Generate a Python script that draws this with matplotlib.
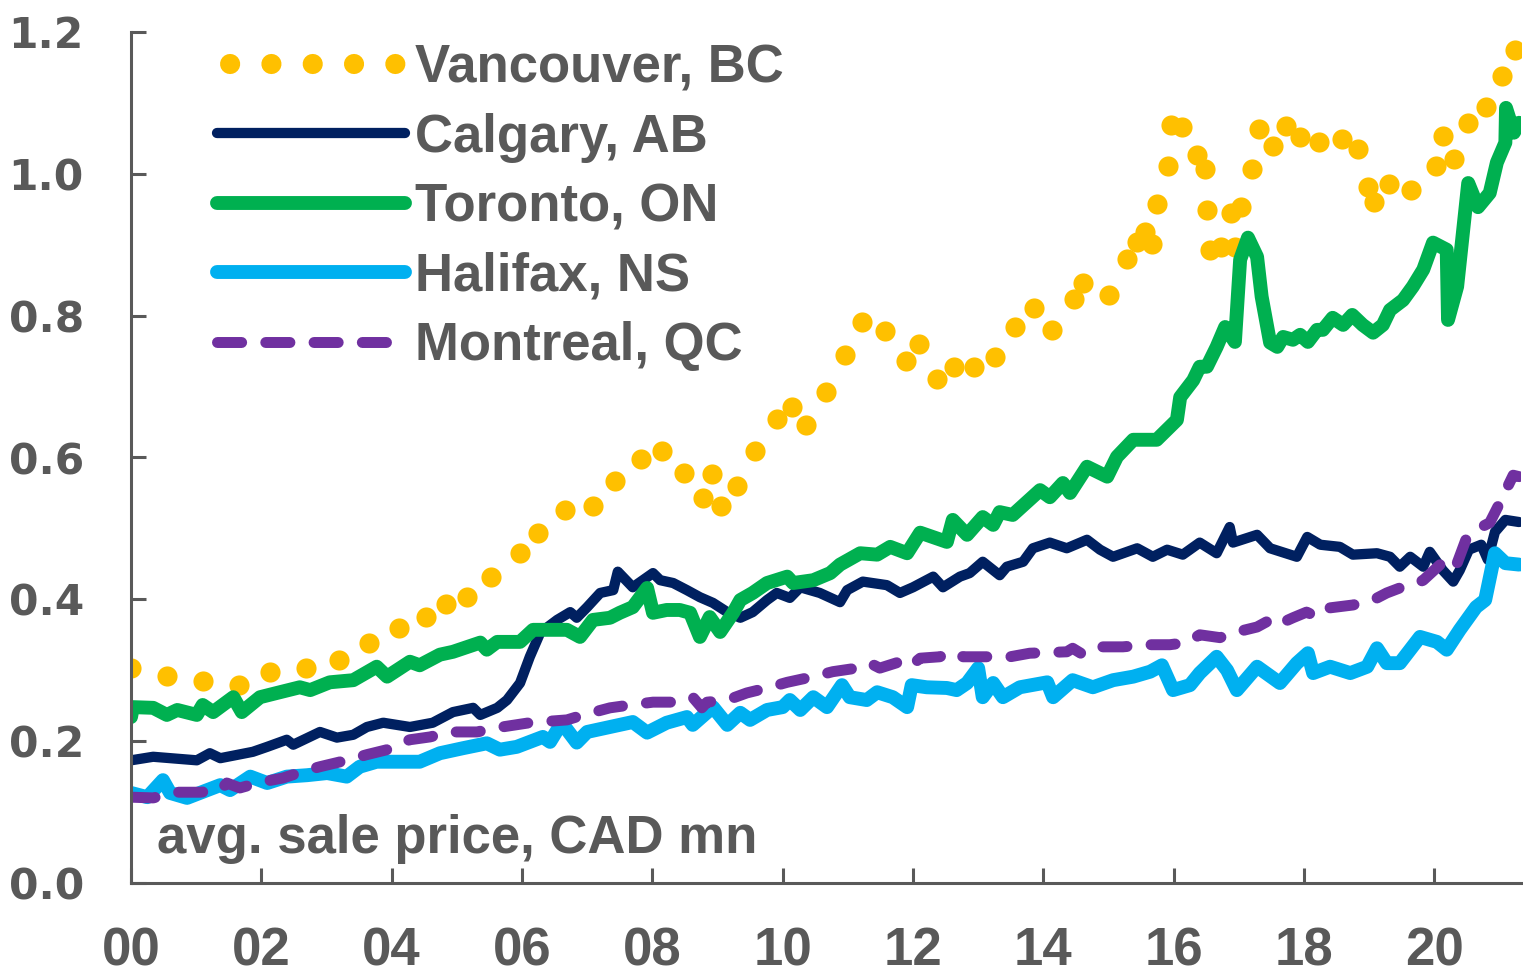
import matplotlib
matplotlib.use("Agg")
import matplotlib.pyplot as plt
from matplotlib.lines import Line2D

grey = "#595959"

# ---- data (avg. sale price, CAD mn) ----
van_x = [2000.00, 2000.55, 2001.10, 2001.66, 2002.13, 2002.69, 2003.19, 2003.65, 2004.11, 2004.53,
         2004.83, 2005.16, 2005.52, 2005.97, 2006.25, 2006.66, 2007.09, 2007.43, 2007.83, 2008.15,
         2008.49, 2008.78, 2008.92, 2009.06, 2009.30, 2009.58, 2009.91, 2010.14, 2010.36, 2010.66,
         2010.96, 2011.22, 2011.57, 2011.89, 2012.09, 2012.37, 2012.63, 2012.94, 2013.26, 2013.56,
         2013.86, 2014.13, 2014.47, 2014.61, 2015.01, 2015.28, 2015.44, 2015.56, 2015.67, 2015.74,
         2015.91, 2015.96, 2016.13, 2016.36, 2016.48, 2016.51, 2016.56, 2016.73, 2016.88, 2016.94,
         2017.03, 2017.20, 2017.31, 2017.52, 2017.72, 2017.94, 2018.23, 2018.58, 2018.83, 2018.98,
         2019.07, 2019.30, 2019.64, 2020.02, 2020.13, 2020.30, 2020.52, 2020.79, 2021.04, 2021.24]
van_y = [0.303, 0.292, 0.285, 0.279, 0.298, 0.303, 0.315, 0.339, 0.360, 0.375,
         0.394, 0.403, 0.432, 0.465, 0.494, 0.526, 0.532, 0.567, 0.598, 0.609,
         0.578, 0.543, 0.577, 0.532, 0.560, 0.609, 0.654, 0.671, 0.646, 0.693,
         0.745, 0.791, 0.779, 0.736, 0.760, 0.711, 0.728, 0.728, 0.742, 0.784,
         0.811, 0.780, 0.824, 0.846, 0.829, 0.880, 0.904, 0.918, 0.901, 0.958,
         1.011, 1.069, 1.066, 1.027, 1.007, 0.949, 0.893, 0.897, 0.945, 0.897,
         0.953, 1.007, 1.063, 1.039, 1.068, 1.052, 1.045, 1.049, 1.035, 0.982,
         0.960, 0.986, 0.977, 1.011, 1.054, 1.021, 1.072, 1.094, 1.138, 1.175]

cal_x = [2000.00, 2000.34, 2001.01, 2001.21, 2001.37, 2001.87, 2002.09, 2002.39, 2002.49, 2002.90,
         2003.16, 2003.41, 2003.62, 2003.87, 2004.28, 2004.63, 2004.94, 2005.25, 2005.36, 2005.62,
         2005.77, 2005.97, 2006.12, 2006.28, 2006.54, 2006.74, 2006.84, 2007.00, 2007.20, 2007.40,
         2007.47, 2007.70, 2008.01, 2008.12, 2008.32, 2008.53, 2008.73, 2008.93, 2009.15, 2009.35,
         2009.54, 2009.76, 2009.91, 2010.11, 2010.27, 2010.57, 2010.88, 2010.99, 2011.23, 2011.60,
         2011.80, 2012.00, 2012.31, 2012.46, 2012.72, 2012.87, 2013.07, 2013.33, 2013.44, 2013.69,
         2013.84, 2014.10, 2014.36, 2014.67, 2014.87, 2015.07, 2015.44, 2015.68, 2015.90, 2016.14,
         2016.40, 2016.66, 2016.86, 2016.91, 2017.28, 2017.48, 2017.89, 2018.05, 2018.25, 2018.55,
         2018.75, 2019.12, 2019.32, 2019.47, 2019.63, 2019.83, 2019.93, 2020.13, 2020.29, 2020.39,
         2020.53, 2020.72, 2020.82, 2020.93, 2021.09, 2021.30]
cal_y = [0.173, 0.178, 0.173, 0.183, 0.176, 0.185, 0.192, 0.202, 0.195, 0.213,
         0.205, 0.209, 0.220, 0.226, 0.220, 0.226, 0.241, 0.247, 0.237, 0.247,
         0.258, 0.282, 0.319, 0.353, 0.371, 0.382, 0.374, 0.389, 0.409, 0.413,
         0.439, 0.417, 0.437, 0.427, 0.423, 0.413, 0.403, 0.395, 0.382, 0.374,
         0.382, 0.399, 0.409, 0.402, 0.417, 0.409, 0.396, 0.413, 0.425, 0.420,
         0.409, 0.417, 0.432, 0.417, 0.432, 0.437, 0.453, 0.434, 0.446, 0.453,
         0.472, 0.480, 0.472, 0.484, 0.470, 0.460, 0.472, 0.460, 0.470, 0.463,
         0.480, 0.465, 0.502, 0.480, 0.491, 0.472, 0.460, 0.488, 0.477, 0.474,
         0.463, 0.465, 0.460, 0.446, 0.460, 0.446, 0.467, 0.441, 0.425, 0.441,
         0.470, 0.477, 0.456, 0.495, 0.512, 0.509]

tor_x = [2000.00, 2000.03, 2000.34, 2000.55, 2000.71, 2001.01, 2001.10, 2001.26, 2001.57, 2001.70,
         2001.98, 2002.24, 2002.59, 2002.75, 2003.05, 2003.41, 2003.77, 2003.93, 2004.28, 2004.43,
         2004.74, 2004.94, 2005.36, 2005.46, 2005.62, 2005.97, 2006.17, 2006.69, 2006.89, 2007.09,
         2007.35, 2007.50, 2007.70, 2007.92, 2008.01, 2008.22, 2008.42, 2008.58, 2008.73, 2008.88,
         2009.04, 2009.24, 2009.35, 2009.54, 2009.76, 2010.07, 2010.16, 2010.47, 2010.73, 2010.88,
         2011.19, 2011.45, 2011.65, 2011.91, 2012.11, 2012.52, 2012.61, 2012.83, 2013.07, 2013.23,
         2013.33, 2013.53, 2013.95, 2014.10, 2014.30, 2014.41, 2014.67, 2014.98, 2015.13, 2015.38,
         2015.74, 2016.05, 2016.10, 2016.30, 2016.40, 2016.51, 2016.66, 2016.79, 2016.94, 2017.02,
         2017.14, 2017.28, 2017.35, 2017.48, 2017.59, 2017.68, 2017.83, 2017.94, 2018.06, 2018.20,
         2018.29, 2018.44, 2018.60, 2018.74, 2018.90, 2019.06, 2019.21, 2019.32, 2019.52, 2019.67,
         2019.83, 2019.98, 2020.19, 2020.21, 2020.35, 2020.52, 2020.67, 2020.85, 2020.96, 2021.09,
         2021.10, 2021.22, 2021.30]
tor_y = [0.234, 0.248, 0.247, 0.237, 0.244, 0.237, 0.251, 0.241, 0.262, 0.241,
         0.262, 0.268, 0.276, 0.272, 0.283, 0.286, 0.305, 0.291, 0.312, 0.307,
         0.322, 0.326, 0.339, 0.329, 0.340, 0.340, 0.357, 0.357, 0.347, 0.371,
         0.374, 0.381, 0.389, 0.416, 0.381, 0.385, 0.385, 0.381, 0.347, 0.375,
         0.354, 0.381, 0.399, 0.409, 0.423, 0.432, 0.423, 0.427, 0.437, 0.449,
         0.465, 0.463, 0.474, 0.465, 0.494, 0.481, 0.512, 0.491, 0.516, 0.505,
         0.523, 0.519, 0.554, 0.544, 0.564, 0.550, 0.587, 0.573, 0.601, 0.625,
         0.625, 0.653, 0.685, 0.709, 0.728, 0.728, 0.756, 0.784, 0.763, 0.879,
         0.910, 0.883, 0.827, 0.762, 0.756, 0.770, 0.766, 0.773, 0.763, 0.780,
         0.780, 0.797, 0.787, 0.801, 0.787, 0.776, 0.787, 0.808, 0.822, 0.841,
         0.865, 0.903, 0.893, 0.794, 0.841, 0.987, 0.953, 0.973, 1.016, 1.044,
         1.093, 1.058, 1.072]

hal_x = [2000.00, 2000.25, 2000.49, 2000.60, 2000.86, 2001.17, 2001.37, 2001.52, 2001.83, 2002.09,
         2002.39, 2002.70, 2003.01, 2003.31, 2003.51, 2003.77, 2004.08, 2004.43, 2004.74, 2005.09,
         2005.46, 2005.66, 2005.92, 2006.32, 2006.43, 2006.61, 2006.84, 2007.00, 2007.35, 2007.70,
         2007.92, 2008.22, 2008.53, 2008.62, 2008.93, 2009.15, 2009.35, 2009.50, 2009.76, 2010.00,
         2010.11, 2010.27, 2010.47, 2010.68, 2010.91, 2011.03, 2011.29, 2011.45, 2011.69, 2011.91,
         2011.98, 2012.21, 2012.52, 2012.67, 2012.83, 2013.00, 2013.07, 2013.23, 2013.38, 2013.64,
         2014.06, 2014.15, 2014.45, 2014.76, 2015.07, 2015.38, 2015.64, 2015.82, 2015.99, 2016.25,
         2016.40, 2016.66, 2016.82, 2016.97, 2017.28, 2017.63, 2017.89, 2018.06, 2018.14, 2018.40,
         2018.71, 2018.97, 2019.12, 2019.27, 2019.47, 2019.78, 2020.04, 2020.19, 2020.39, 2020.64,
         2020.78, 2020.93, 2021.09, 2021.30]
hal_y = [0.127, 0.121, 0.145, 0.127, 0.120, 0.131, 0.138, 0.131, 0.150, 0.141,
         0.150, 0.152, 0.155, 0.150, 0.164, 0.171, 0.171, 0.171, 0.183, 0.190,
         0.197, 0.188, 0.192, 0.206, 0.199, 0.226, 0.198, 0.213, 0.220, 0.227,
         0.212, 0.226, 0.234, 0.223, 0.248, 0.223, 0.240, 0.230, 0.244, 0.248,
         0.258, 0.244, 0.262, 0.248, 0.279, 0.262, 0.258, 0.269, 0.262, 0.248,
         0.279, 0.276, 0.275, 0.272, 0.282, 0.303, 0.262, 0.282, 0.262, 0.276,
         0.283, 0.262, 0.286, 0.276, 0.286, 0.291, 0.298, 0.307, 0.272, 0.279,
         0.296, 0.319, 0.300, 0.272, 0.305, 0.282, 0.310, 0.324, 0.296, 0.305,
         0.296, 0.305, 0.331, 0.310, 0.310, 0.347, 0.340, 0.329, 0.357, 0.389,
         0.399, 0.465, 0.451, 0.449]

mtl_x = [2000.00, 2000.34, 2000.71, 2001.06, 2001.37, 2001.47, 2001.67, 2001.98, 2002.33, 2002.70,
         2002.90, 2003.31, 2003.62, 2003.93, 2004.13, 2004.28, 2004.59, 2004.89, 2005.31, 2005.62,
         2006.12, 2006.69, 2006.94, 2007.35, 2007.66, 2008.01, 2008.32, 2008.62, 2008.76, 2008.84,
         2009.15, 2009.45, 2009.76, 2010.07, 2010.47, 2010.77, 2011.14, 2011.34, 2011.49, 2011.80,
         2011.95, 2012.11, 2012.41, 2012.61, 2012.77, 2013.13, 2013.49, 2013.79, 2014.36, 2014.45,
         2014.61, 2014.91, 2015.22, 2015.59, 2015.94, 2016.20, 2016.40, 2016.71, 2016.97, 2017.28,
         2017.48, 2017.59, 2017.83, 2018.04, 2018.20, 2018.40, 2018.75, 2019.06, 2019.27, 2019.47,
         2019.67, 2019.83, 2020.09, 2020.24, 2020.35, 2020.50, 2020.70, 2020.85, 2021.01, 2021.21,
         2021.30]
mtl_y = [0.121, 0.120, 0.128, 0.128, 0.131, 0.141, 0.134, 0.142, 0.148, 0.159,
         0.164, 0.173, 0.181, 0.188, 0.197, 0.202, 0.206, 0.213, 0.213, 0.219,
         0.226, 0.230, 0.237, 0.247, 0.251, 0.255, 0.255, 0.262, 0.247, 0.255,
         0.258, 0.268, 0.275, 0.283, 0.291, 0.298, 0.303, 0.310, 0.303, 0.312,
         0.305, 0.317, 0.319, 0.326, 0.319, 0.319, 0.319, 0.324, 0.326, 0.331,
         0.322, 0.333, 0.333, 0.336, 0.336, 0.339, 0.350, 0.346, 0.354, 0.361,
         0.371, 0.364, 0.374, 0.382, 0.375, 0.388, 0.392, 0.399, 0.409, 0.416,
         0.420, 0.427, 0.449, 0.439, 0.451, 0.488, 0.501, 0.508, 0.537, 0.575,
         0.573]

names = ["Vancouver, BC", "Calgary, AB", "Toronto, ON", "Halifax, NS", "Montreal, QC"]
colors = ["#FFC000", "#002060", "#00B050", "#00B0F0", "#7030A0"]
tick_years = [2000, 2002, 2004, 2006, 2008, 2010, 2012, 2014, 2016, 2018, 2020]
tick_labels = ["00", "02", "04", "06", "08", "10", "12", "14", "16", "18", "20"]
y_ticks = [0.0, 0.2, 0.4, 0.6, 0.8, 1.0, 1.2]

fig = plt.figure(figsize=(15.23, 9.71), dpi=100)
ax = fig.add_axes([131 / 1523, 88 / 971, 1390 / 1523, 851 / 971])

ax.plot(van_x, van_y, linestyle="none", marker="o", markersize=14.5,
        color=colors[0], markeredgewidth=0)
ax.plot(cal_x, cal_y, color=colors[1], lw=7.4, solid_joinstyle="round", solid_capstyle="round")
ax.plot(tor_x, tor_y, color=colors[2], lw=10, solid_joinstyle="round", solid_capstyle="round")
ax.plot(hal_x, hal_y, color=colors[3], lw=10, solid_joinstyle="round", solid_capstyle="round")
ax.plot(mtl_x, mtl_y, color=colors[4], lw=7.9, linestyle=(0, (2.2, 2.2)),
        dash_capstyle="round", dash_joinstyle="round")

ax.set_xlim(2000, 2021.33)
ax.set_ylim(0, 1.2)

for side in ["top", "right"]:
    ax.spines[side].set_visible(False)
for side in ["left", "bottom"]:
    ax.spines[side].set_color(grey)
    ax.spines[side].set_linewidth(2.2)

ax.set_xticks(tick_years)
ax.set_xticklabels(tick_labels, family="Liberation Sans", weight="bold", size=38, color=grey)
ax.set_yticks(y_ticks)
ax.set_yticklabels(["%.1f" % v for v in y_ticks], family="DejaVu Sans", weight="bold",
                   size=30.5, color=grey)
ax.tick_params(axis="x", direction="in", length=11, width=2.2, color=grey, pad=31)
ax.tick_params(axis="y", direction="in", length=11, width=2.2, color=grey, pad=34)

ax.text(0.0187, 0.035, "avg. sale price, CAD mn", transform=ax.transAxes,
        family="Liberation Sans", weight="bold", size=38, color=grey, va="baseline")

handles = [
    Line2D([], [], color=colors[0], lw=14.5, linestyle=(1.4, (0.001, 2.05)),
           dash_capstyle="round"),
    Line2D([], [], color=colors[1], lw=7.4, solid_capstyle="round"),
    Line2D([], [], color=colors[2], lw=10, solid_capstyle="round"),
    Line2D([], [], color=colors[3], lw=10, solid_capstyle="round"),
    Line2D([], [], color=colors[4], lw=7.9, linestyle=(0, (2.2, 2.2)), dash_capstyle="round"),
]
leg = ax.legend(handles, names, loc="upper left", bbox_to_anchor=(0.062, 0.987),
                frameon=False, borderpad=0, borderaxespad=0, handlelength=3.55,
                handletextpad=0.2, labelspacing=0.37,
                prop={"family": "Liberation Sans", "weight": "bold", "size": 38})
for t in leg.get_texts():
    t.set_color(grey)

fig.savefig("out.png", dpi=100)
